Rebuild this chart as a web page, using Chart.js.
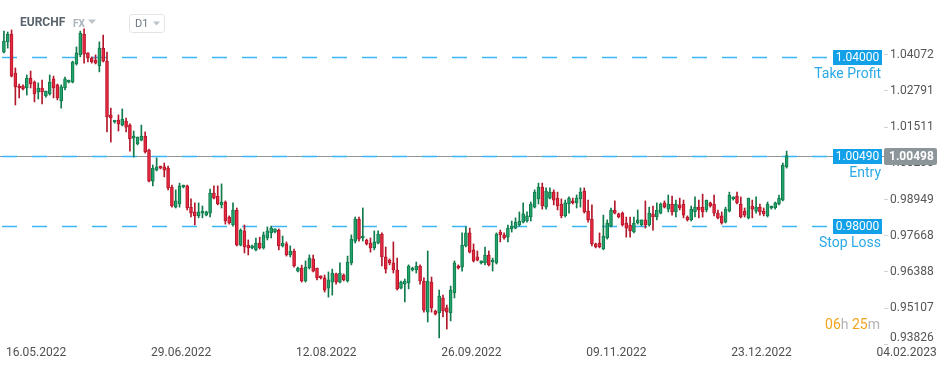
<!DOCTYPE html>
<html>
<head>
<meta charset="utf-8">
<title>EURCHF D1</title>
<script src="https://cdn.jsdelivr.net/npm/chart.js@4.4.1/dist/chart.umd.min.js"></script>
<style>
  html, body { margin: 0; padding: 0; background: #ffffff; }
  canvas { display: block; }
</style>
</head>
<body>
<canvas id="candleChart" width="949" height="370"></canvas>
<script>
const symbolName = "EURCHF";
const tickDates = ["16.05.2022", "29.06.2022", "12.08.2022", "26.09.2022", "09.11.2022", "23.12.2022", "04.02.2023"];
const labelStep = 38;
const slotCount = 231;

const yTickValues = [0.93826, 0.95107, 0.96388, 0.97668, 0.98949, 1.00230, 1.01511, 1.02791, 1.04072];
const yMin = 0.93808;
const yMax = 1.0600;

const levelValues = [1.04000, 1.00490, 0.98000];
const levelNames = ["Take Profit", "Entry", "Stop Loss"];
const currentPrice = 1.00498;

const opens = [
  1.0416, 1.0452, 1.0480, 1.0342, 1.0296, 1.0296, 1.0289, 1.0324, 1.0310, 1.0275,
  1.0289, 1.0261, 1.0268, 1.0321, 1.0300, 1.0243, 1.0289, 1.0310, 1.0310, 1.0374,
  1.0406, 1.0480, 1.0413, 1.0395, 1.0388, 1.0367, 1.0430, 1.0384, 1.0194, 1.0169,
  1.0176, 1.0158, 1.0172, 1.0158, 1.0112, 1.0091, 1.0105, 1.0119, 1.0070, 0.9960,
  0.9999, 1.0010, 1.0010, 1.0006, 0.9939, 0.9868, 0.9879, 0.9939, 0.9943, 0.9868,
  0.9851, 0.9837, 0.9847, 0.9840, 0.9847, 0.9918, 0.9907, 0.9876, 0.9886, 0.9833,
  0.9805, 0.9858, 0.9734, 0.9784, 0.9734, 0.9724, 0.9717, 0.9741, 0.9724, 0.9759,
  0.9777, 0.9780, 0.9787, 0.9731, 0.9738, 0.9699, 0.9713, 0.9642, 0.9653, 0.9607,
  0.9653, 0.9685, 0.9653, 0.9625, 0.9618, 0.9582, 0.9603, 0.9632, 0.9603, 0.9628,
  0.9607, 0.9671, 0.9748, 0.9826, 0.9759, 0.9752, 0.9741, 0.9724, 0.9741, 0.9773,
  0.9692, 0.9681, 0.9671, 0.9646, 0.9582, 0.9596, 0.9600, 0.9646, 0.9646, 0.9660,
  0.9607, 0.9497, 0.9603, 0.9501, 0.9494, 0.9547, 0.9512, 0.9494, 0.9565, 0.9660,
  0.9656, 0.9731, 0.9777, 0.9717, 0.9692, 0.9671, 0.9671, 0.9699, 0.9674, 0.9671,
  0.9780, 0.9770, 0.9762, 0.9791, 0.9794, 0.9805, 0.9815, 0.9819, 0.9833, 0.9868,
  0.9897, 0.9939, 0.9868, 0.9900, 0.9921, 0.9900, 0.9879, 0.9837, 0.9879, 0.9890,
  0.9883, 0.9897, 0.9925, 0.9854, 0.9826, 0.9738, 0.9741, 0.9720, 0.9759, 0.9801,
  0.9858, 0.9844, 0.9847, 0.9812, 0.9805, 0.9780, 0.9812, 0.9805, 0.9823, 0.9805,
  0.9844, 0.9833, 0.9847, 0.9883, 0.9861, 0.9879, 0.9851, 0.9876, 0.9879, 0.9833,
  0.9823, 0.9851, 0.9868, 0.9868, 0.9858, 0.9883, 0.9879, 0.9847, 0.9837, 0.9815,
  0.9854, 0.9897, 0.9907, 0.9879, 0.9854, 0.9830, 0.9872, 0.9854, 0.9868, 0.9854,
  0.9837, 0.9865, 0.9865, 0.9879, 0.9893, 1.0010
];

const highs = [
  1.0490, 1.0487, 1.0494, 1.0360, 1.0303, 1.0300, 1.0335, 1.0349, 1.0314, 1.0307,
  1.0317, 1.0278, 1.0335, 1.0331, 1.0303, 1.0300, 1.0328, 1.0317, 1.0384, 1.0434,
  1.0490, 1.0498, 1.0413, 1.0399, 1.0406, 1.0452, 1.0476, 1.0416, 1.0218, 1.0172,
  1.0194, 1.0215, 1.0183, 1.0162, 1.0137, 1.0116, 1.0158, 1.0134, 1.0073, 1.0017,
  1.0042, 1.0013, 1.0024, 1.0013, 0.9946, 0.9929, 0.9953, 0.9946, 0.9946, 0.9897,
  0.9883, 0.9883, 0.9872, 0.9854, 0.9932, 0.9943, 0.9943, 0.9950, 0.9890, 0.9837,
  0.9883, 0.9865, 0.9791, 0.9805, 0.9752, 0.9734, 0.9759, 0.9762, 0.9780, 0.9798,
  0.9801, 0.9791, 0.9791, 0.9766, 0.9745, 0.9731, 0.9720, 0.9656, 0.9663, 0.9678,
  0.9699, 0.9699, 0.9653, 0.9625, 0.9628, 0.9639, 0.9649, 0.9635, 0.9671, 0.9632,
  0.9695, 0.9770, 0.9833, 0.9833, 0.9865, 0.9755, 0.9759, 0.9784, 0.9784, 0.9777,
  0.9727, 0.9685, 0.9745, 0.9688, 0.9607, 0.9614, 0.9664, 0.9656, 0.9674, 0.9664,
  0.9618, 0.9713, 0.9621, 0.9504, 0.9575, 0.9557, 0.9522, 0.9589, 0.9678, 0.9664,
  0.9777, 0.9798, 0.9794, 0.9738, 0.9713, 0.9678, 0.9727, 0.9713, 0.9688, 0.9777,
  0.9787, 0.9777, 0.9805, 0.9819, 0.9830, 0.9851, 0.9883, 0.9851, 0.9886, 0.9929,
  0.9953, 0.9953, 0.9936, 0.9936, 0.9929, 0.9921, 0.9897, 0.9893, 0.9904, 0.9900,
  0.9911, 0.9936, 0.9936, 0.9893, 0.9876, 0.9741, 0.9777, 0.9840, 0.9823, 0.9865,
  0.9890, 0.9847, 0.9851, 0.9833, 0.9833, 0.9833, 0.9858, 0.9823, 0.9890, 0.9868,
  0.9872, 0.9883, 0.9883, 0.9890, 0.9911, 0.9907, 0.9893, 0.9900, 0.9893, 0.9837,
  0.9872, 0.9904, 0.9893, 0.9914, 0.9893, 0.9886, 0.9911, 0.9858, 0.9851, 0.9868,
  0.9921, 0.9904, 0.9921, 0.9904, 0.9865, 0.9900, 0.9893, 0.9904, 0.9879, 0.9865,
  0.9886, 0.9872, 0.9886, 0.9911, 1.0024, 1.0066
];

const lows = [
  1.0413, 1.0430, 1.0328, 1.0229, 1.0254, 1.0282, 1.0264, 1.0289, 1.0240, 1.0250,
  1.0233, 1.0257, 1.0264, 1.0254, 1.0247, 1.0218, 1.0282, 1.0307, 1.0307, 1.0370,
  1.0399, 1.0377, 1.0381, 1.0377, 1.0374, 1.0346, 1.0381, 1.0134, 1.0098, 1.0165,
  1.0137, 1.0155, 1.0134, 1.0066, 1.0045, 1.0088, 1.0102, 1.0059, 0.9957, 0.9943,
  0.9996, 1.0003, 0.9975, 0.9929, 0.9868, 0.9865, 0.9868, 0.9936, 0.9858, 0.9833,
  0.9805, 0.9830, 0.9830, 0.9837, 0.9833, 0.9897, 0.9876, 0.9865, 0.9808, 0.9808,
  0.9801, 0.9731, 0.9731, 0.9706, 0.9699, 0.9720, 0.9713, 0.9720, 0.9720, 0.9752,
  0.9759, 0.9777, 0.9717, 0.9727, 0.9695, 0.9692, 0.9656, 0.9639, 0.9603, 0.9603,
  0.9649, 0.9639, 0.9611, 0.9614, 0.9568, 0.9550, 0.9557, 0.9596, 0.9600, 0.9607,
  0.9603, 0.9664, 0.9741, 0.9748, 0.9748, 0.9734, 0.9709, 0.9717, 0.9738, 0.9660,
  0.9635, 0.9664, 0.9635, 0.9575, 0.9579, 0.9533, 0.9579, 0.9642, 0.9635, 0.9596,
  0.9497, 0.9462, 0.9497, 0.9487, 0.9406, 0.9480, 0.9437, 0.9466, 0.9547, 0.9649,
  0.9642, 0.9727, 0.9706, 0.9674, 0.9678, 0.9667, 0.9664, 0.9660, 0.9642, 0.9667,
  0.9745, 0.9755, 0.9745, 0.9780, 0.9791, 0.9801, 0.9812, 0.9815, 0.9819, 0.9865,
  0.9879, 0.9861, 0.9861, 0.9897, 0.9876, 0.9858, 0.9830, 0.9833, 0.9847, 0.9879,
  0.9865, 0.9868, 0.9847, 0.9815, 0.9731, 0.9724, 0.9724, 0.9717, 0.9755, 0.9798,
  0.9844, 0.9830, 0.9801, 0.9762, 0.9762, 0.9777, 0.9808, 0.9801, 0.9794, 0.9801,
  0.9787, 0.9823, 0.9844, 0.9865, 0.9851, 0.9840, 0.9833, 0.9858, 0.9830, 0.9819,
  0.9819, 0.9833, 0.9830, 0.9833, 0.9851, 0.9868, 0.9837, 0.9826, 0.9808, 0.9812,
  0.9851, 0.9893, 0.9879, 0.9830, 0.9833, 0.9826, 0.9830, 0.9847, 0.9840, 0.9837,
  0.9833, 0.9861, 0.9861, 0.9876, 0.9890, 1.0006
];

const closes = [
  1.0455, 1.0480, 1.0331, 1.0293, 1.0289, 1.0286, 1.0324, 1.0303, 1.0268, 1.0289,
  1.0275, 1.0278, 1.0310, 1.0289, 1.0254, 1.0293, 1.0321, 1.0317, 1.0381, 1.0413,
  1.0483, 1.0409, 1.0395, 1.0381, 1.0377, 1.0430, 1.0384, 1.0187, 1.0183, 1.0176,
  1.0162, 1.0179, 1.0151, 1.0109, 1.0119, 1.0116, 1.0119, 1.0063, 0.9960, 1.0006,
  1.0010, 1.0006, 0.9999, 0.9936, 0.9872, 0.9890, 0.9943, 0.9946, 0.9865, 0.9847,
  0.9837, 0.9851, 0.9854, 0.9851, 0.9918, 0.9900, 0.9879, 0.9886, 0.9819, 0.9812,
  0.9858, 0.9734, 0.9787, 0.9727, 0.9724, 0.9731, 0.9741, 0.9724, 0.9770, 0.9784,
  0.9794, 0.9791, 0.9731, 0.9741, 0.9699, 0.9713, 0.9660, 0.9653, 0.9607, 0.9656,
  0.9688, 0.9642, 0.9618, 0.9618, 0.9575, 0.9611, 0.9635, 0.9603, 0.9635, 0.9611,
  0.9674, 0.9755, 0.9826, 0.9755, 0.9766, 0.9738, 0.9724, 0.9745, 0.9773, 0.9692,
  0.9649, 0.9671, 0.9646, 0.9579, 0.9603, 0.9607, 0.9660, 0.9653, 0.9660, 0.9607,
  0.9504, 0.9607, 0.9512, 0.9490, 0.9554, 0.9501, 0.9497, 0.9575, 0.9671, 0.9653,
  0.9734, 0.9777, 0.9709, 0.9678, 0.9681, 0.9678, 0.9699, 0.9664, 0.9681, 0.9773,
  0.9770, 0.9759, 0.9794, 0.9801, 0.9815, 0.9819, 0.9844, 0.9837, 0.9879, 0.9921,
  0.9939, 0.9872, 0.9925, 0.9921, 0.9893, 0.9872, 0.9837, 0.9883, 0.9900, 0.9883,
  0.9900, 0.9921, 0.9851, 0.9823, 0.9738, 0.9727, 0.9727, 0.9766, 0.9812, 0.9858,
  0.9847, 0.9833, 0.9805, 0.9794, 0.9784, 0.9812, 0.9823, 0.9823, 0.9805, 0.9847,
  0.9833, 0.9858, 0.9879, 0.9868, 0.9879, 0.9851, 0.9879, 0.9865, 0.9840, 0.9823,
  0.9861, 0.9868, 0.9858, 0.9851, 0.9893, 0.9872, 0.9847, 0.9830, 0.9812, 0.9861,
  0.9911, 0.9904, 0.9883, 0.9833, 0.9840, 0.9900, 0.9861, 0.9868, 0.9851, 0.9844,
  0.9879, 0.9872, 0.9883, 0.9900, 1.0017, 1.0050
];

const UP_FILL = "#22a36c";
const UP_LINE = "#107a4b";
const DOWN_FILL = "#e8283f";
const DOWN_LINE = "#b3172b";
const LEVEL_COLOR = "#3db7f4";
const LEVEL_BOX = "#12a0e8";
const AXIS_TEXT = "#555555";

const xLabels = Array.from({ length: slotCount }, (_, i) =>
  i % labelStep === 0 ? (tickDates[i / labelStep] || "") : ""
);

const isUp = closes.map((c, i) => c >= opens[i]);

function drawLevels(chart) {
  const { ctx, chartArea, scales } = chart;
  const y = scales.y;

  ctx.save();
  const py = Math.round(y.getPixelForValue(currentPrice)) + 0.5;
  ctx.strokeStyle = "#8f979c";
  ctx.lineWidth = 1;
  ctx.beginPath();
  ctx.moveTo(0, py);
  ctx.lineTo(chartArea.right, py);
  ctx.stroke();

  ctx.setLineDash([15, 15]);
  ctx.strokeStyle = LEVEL_COLOR;
  ctx.lineWidth = 1.5;
  levelValues.forEach((v) => {
    const ly = Math.round(y.getPixelForValue(v)) + 0.5;
    ctx.beginPath();
    ctx.moveTo(chartArea.left, ly);
    ctx.lineTo(chartArea.right - 51, ly);
    ctx.stroke();
  });
  ctx.restore();
}

function drawBottomTick(chart) {
  // lowest price label sits clamped inside the plot, like the platform does
  const { ctx, chartArea, scales } = chart;
  const y = scales.y;
  const v = yTickValues[0];
  const ty = Math.min(y.getPixelForValue(v), chartArea.bottom - 7);
  ctx.save();
  ctx.font = "12px Roboto";
  ctx.fillStyle = AXIS_TEXT;
  ctx.textAlign = "left";
  ctx.textBaseline = "middle";
  ctx.fillText(v.toFixed(5), chartArea.right + 6, ty);
  ctx.restore();
}

function drawBoxes(chart) {
  const { ctx, chartArea, scales } = chart;
  const y = scales.y;

  ctx.save();
  ctx.textBaseline = "middle";

  levelValues.forEach((v, i) => {
    const ly = Math.round(y.getPixelForValue(v));
    const bx = chartArea.right - 51;
    ctx.fillStyle = LEVEL_BOX;
    ctx.fillRect(bx, ly - 7, 49, 15);
    ctx.fillStyle = "#ffffff";
    ctx.font = "12px Roboto";
    ctx.textAlign = "center";
    ctx.fillText(v.toFixed(5), bx + 24.5, ly + 1);

    ctx.fillStyle = "#2aa9e6";
    ctx.font = "14px Roboto";
    ctx.textAlign = "right";
    ctx.fillText(levelNames[i], bx + 48, ly + 17);
  });

  const py = Math.round(y.getPixelForValue(currentPrice));
  ctx.fillStyle = "#8c9599";
  ctx.beginPath();
  ctx.roundRect(chartArea.right, py - 8, 53, 17, 2);
  ctx.fill();
  ctx.fillStyle = "#ffffff";
  ctx.font = "bold 12px Roboto";
  ctx.textAlign = "left";
  ctx.fillText(currentPrice.toFixed(5), chartArea.right + 5, py + 1);

  ctx.restore();
}

function drawHeader(chart) {
  const { ctx } = chart;
  ctx.save();
  ctx.textBaseline = "middle";
  ctx.textAlign = "left";

  ctx.font = "bold 12px Roboto";
  ctx.fillStyle = "#58636d";
  ctx.fillText(symbolName, 20, 23);

  ctx.font = "bold 10px Roboto";
  ctx.fillStyle = "#a9b3ba";
  ctx.fillText("FX", 73, 24);

  ctx.fillStyle = "#bcc3c8";
  ctx.beginPath();
  ctx.moveTo(88, 19.5);
  ctx.lineTo(96, 19.5);
  ctx.lineTo(92, 24);
  ctx.closePath();
  ctx.fill();

  ctx.strokeStyle = "#e0e4e7";
  ctx.lineWidth = 1;
  ctx.beginPath();
  ctx.roundRect(129.5, 14.5, 35, 18, 3);
  ctx.stroke();

  ctx.font = "11px Roboto";
  ctx.fillStyle = "#6b7680";
  ctx.fillText("D1", 135, 24);

  ctx.fillStyle = "#bcc3c8";
  ctx.beginPath();
  ctx.moveTo(153, 21.5);
  ctx.lineTo(160, 21.5);
  ctx.lineTo(156.5, 25.5);
  ctx.closePath();
  ctx.fill();

  // countdown to candle close
  const parts = [["06", "#f5a31c"], ["h", "#b4b4b4"], [" 25", "#f5a31c"], ["m", "#b4b4b4"]];
  ctx.font = "14px Roboto";
  const total = parts.reduce((s, p) => s + ctx.measureText(p[0]).width, 0);
  let cx = 880 - total;
  parts.forEach((p) => {
    ctx.fillStyle = p[1];
    ctx.fillText(p[0], cx, 325);
    cx += ctx.measureText(p[0]).width;
  });

  ctx.restore();
}

const overlayPlugin = {
  id: "overlay",
  beforeDatasetsDraw(chart) {
    drawLevels(chart);
  },
  afterDraw(chart) {
    drawBottomTick(chart);
    drawBoxes(chart);
    drawHeader(chart);
  }
};

Chart.defaults.font.family = "Roboto";

new Chart(document.getElementById("candleChart"), {
  type: "bar",
  data: {
    labels: xLabels,
    datasets: [
      {
        data: lows.map((l, i) => [l, highs[i]]),
        backgroundColor: isUp.map((u) => (u ? UP_LINE : DOWN_LINE)),
        barThickness: 1,
        grouped: false,
        order: 2
      },
      {
        data: opens.map((o, i) => [o, closes[i]]),
        backgroundColor: isUp.map((u) => (u ? UP_FILL : DOWN_FILL)),
        borderColor: isUp.map((u) => (u ? UP_LINE : DOWN_LINE)),
        borderWidth: 1,
        borderSkipped: false,
        barThickness: 3,
        minBarLength: 2,
        grouped: false,
        order: 1
      }
    ]
  },
  options: {
    responsive: false,
    animation: false,
    devicePixelRatio: 1,
    layout: { padding: { left: 2, top: 0, right: 0, bottom: 0 } },
    plugins: {
      legend: { display: false },
      tooltip: { enabled: false }
    },
    scales: {
      x: {
        type: "category",
        grid: { display: false, drawTicks: false },
        border: { display: false },
        ticks: {
          autoSkip: false,
          maxRotation: 0,
          minRotation: 0,
          align: "start",
          padding: 1,
          labelOffset: 2,
          color: "#4f4f4f",
          font: { size: 12 }
        },
        afterFit(scale) {
          scale.height = 25;
          scale.paddingLeft = 0;
          scale.paddingRight = 0;
        }
      },
      y: {
        position: "right",
        min: yMin,
        max: yMax,
        grid: { drawOnChartArea: false, drawTicks: true, tickLength: 4, color: "#d4d4d4" },
        border: { display: false },
        ticks: {
          padding: 2,
          color: AXIS_TEXT,
          font: { size: 12 },
          callback: (value) => (value === yTickValues[0] ? "" : Number(value).toFixed(5))
        },
        afterBuildTicks(scale) {
          scale.ticks = yTickValues.map((v) => ({ value: v }));
        },
        afterFit(scale) {
          scale.width = 65;
          scale.paddingTop = 0;
          scale.paddingBottom = 0;
        }
      }
    }
  },
  plugins: [overlayPlugin]
});
</script>
</body>
</html>
